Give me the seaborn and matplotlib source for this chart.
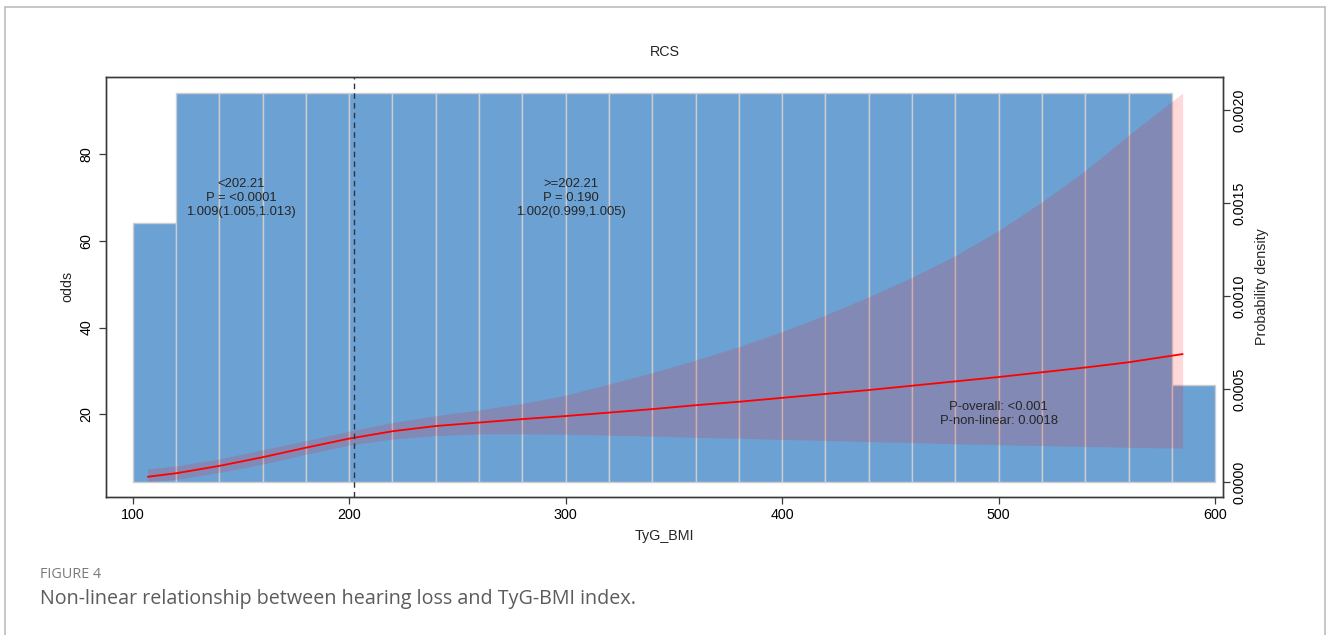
import numpy as np
import pandas as pd
import matplotlib
matplotlib.use("Agg")
import matplotlib.pyplot as plt
from matplotlib.lines import Line2D
import seaborn as sns

# RCS curve (odds) with 95% CI
tyg = [107, 120, 140, 160, 180, 200, 220, 240, 260, 280, 300, 320, 340,
       360, 380, 400, 420, 440, 460, 480, 500, 520, 540, 560, 585]
odds = [5.6, 6.4, 8.1, 10.1, 12.3, 14.4, 16.1, 17.3, 18.1, 18.9, 19.6, 20.4, 21.2,
        22.1, 22.9, 23.8, 24.7, 25.6, 26.6, 27.6, 28.6, 29.7, 30.8, 32.0, 33.9]
upper = [7.4, 8.1, 9.7, 11.8, 13.9, 16.1, 18.1, 19.7, 21.0, 22.5, 24.4, 27.0, 29.6,
         32.5, 35.6, 39.1, 42.9, 47.1, 51.6, 56.6, 62.4, 69.0, 76.2, 84.4, 94.1]
lower = [4.5, 5.0, 6.6, 8.5, 10.8, 12.9, 14.3, 15.1, 15.5, 15.5, 15.4, 15.2, 15.0,
         14.7, 14.5, 14.2, 14.0, 13.7, 13.5, 13.2, 13.0, 12.8, 12.6, 12.4, 12.2]

# histogram of TyG_BMI (density per bin of width 20)
bin_edges = list(range(100, 601, 20))
bin_density = [0.001392] + [0.002091] * 23 + [0.00052]

cutoff = 202.21
left_label = "<202.21\nP = <0.0001\n1.009(1.005,1.013)"
right_label = ">=202.21\nP = 0.190\n1.002(0.999,1.005)"
p_label = "P-overall: <0.001\nP-non-linear: 0.0018"

sns.set_theme(style="white")
plt.rcParams["font.family"] = ["Liberation Sans", "DejaVu Sans"]
plt.rcParams["axes.edgecolor"] = "#3a3a3a"
plt.rcParams["axes.linewidth"] = 1.0

fig = plt.figure(figsize=(13.3, 6.35), dpi=100)
ax = fig.add_axes([0.0797, 0.2178, 0.8398, 0.6609])
ax2 = ax.twinx()
# odds curve must sit above the histogram
ax.set_zorder(ax2.get_zorder() + 1)
ax.patch.set_visible(False)

hist_df = pd.DataFrame({"x": [e + 10 for e in bin_edges[:-1]], "w": bin_density})
sns.histplot(data=hist_df, x="x", weights="w", bins=bin_edges, ax=ax2,
             color="#6CA1D4", edgecolor="#CDCDCD", linewidth=1.0, alpha=1.0)

curve = pd.DataFrame({"TyG_BMI": tyg, "odds": odds, "lo": lower, "hi": upper})
ax.fill_between(curve["TyG_BMI"], curve["lo"], curve["hi"],
                color="#FF0000", alpha=0.15, linewidth=0)
sns.lineplot(data=curve, x="TyG_BMI", y="odds", ax=ax, color="#FF0000", linewidth=1.3)
ax.axvline(cutoff, color="#333333", linestyle=(0, (4, 3)), linewidth=1.0)

ax.set_xlim(87.7, 603.6)
ax.set_ylim(1.0, 97.8)
ax2.set_ylim(-0.000079, 0.002177)

ax.set_xticks([100, 200, 300, 400, 500, 600])
ax.set_yticks([20, 40, 60, 80])
ax2.set_yticks([0, 0.0005, 0.0010, 0.0015, 0.0020])
ax2.set_yticklabels(["0.0000", "0.0005", "0.0010", "0.0015", "0.0020"])

for a in (ax, ax2):
    a.tick_params(axis="both", direction="out", length=5, width=0.9,
                  color="#3a3a3a", labelsize=10.3, labelcolor="black", pad=2)
ax.tick_params(axis="x", bottom=True, pad=3)
ax.tick_params(axis="y", left=True, labelrotation=90, pad=4)
ax2.tick_params(axis="y", right=True, labelrotation=90)
for lab in ax.get_yticklabels():
    lab.set_verticalalignment("center")
for lab in ax2.get_yticklabels():
    lab.set_verticalalignment("center")

ax.set_xlabel("TyG_BMI", fontsize=10.3, labelpad=5)
ax.set_ylabel("odds", fontsize=10.3, labelpad=4)
ax2.set_ylabel("Probability density", fontsize=10.3, labelpad=6)
ax.grid(False)
ax2.grid(False)
for s in ax.spines.values():
    s.set_visible(True)

fig.text(0.4996, 0.918, "RCS", ha="center", va="center", fontsize=10.3)

ax.text(150.2, 69.9, left_label, ha="center", va="center", fontsize=9.4, linespacing=1.25)
ax.text(302.6, 69.9, right_label, ha="center", va="center", fontsize=9.4, linespacing=1.25)
ax.text(500, 20.0, p_label, ha="center", va="center", fontsize=9.4, linespacing=1.25)

# caption under the chart
fig.text(40 / 1330, 1 - 575 / 635, "FIGURE 4", ha="left", va="center",
         fontsize=10.4, color="#7a7a7a", family=["Open Sans", "DejaVu Sans"])
fig.text(40 / 1330, 1 - 599 / 635,
         "Non-linear relationship between hearing loss and TyG-BMI index.",
         ha="left", va="center", fontsize=14.2, color="#5c5c5c",
         family=["Open Sans", "DejaVu Sans"])

# page frame
frame_kw = dict(color="#bdbdbd", linewidth=1.2, transform=fig.transFigure)
fig.add_artist(Line2D([5 / 1330, 1325 / 1330], [1 - 7 / 635, 1 - 7 / 635], **frame_kw))
fig.add_artist(Line2D([5 / 1330, 5 / 1330], [0, 1 - 7 / 635], **frame_kw))
fig.add_artist(Line2D([1325 / 1330, 1325 / 1330], [0, 1 - 7 / 635], **frame_kw))

fig.savefig("out.png", dpi=100, facecolor="white")
